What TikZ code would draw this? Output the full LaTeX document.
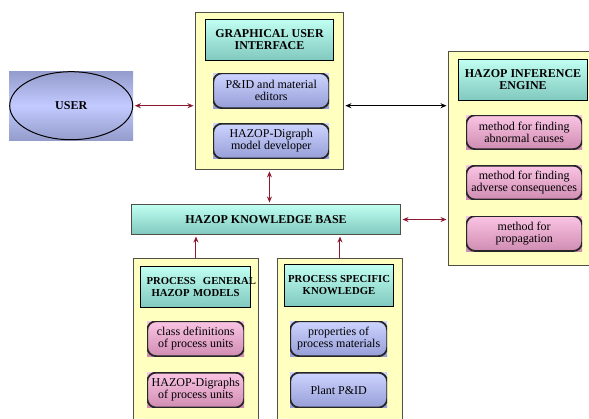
\documentclass[tikz,border=0pt]{standalone}
\usepackage{fontspec}
\setmainfont{Liberation Serif}
\usetikzlibrary{arrows.meta,positioning}
\definecolor{hazPanel}{RGB}{255,255,192}
\definecolor{hazFrame}{RGB}{80,80,70}
\definecolor{hazTealTop}{RGB}{192,255,242}
\definecolor{hazTealBot}{RGB}{128,200,190}
\definecolor{hazBlueTop}{RGB}{205,212,255}
\definecolor{hazBlueBot}{RGB}{150,158,215}
\definecolor{hazUserEdge}{RGB}{148,156,204}
\definecolor{hazUserMid}{RGB}{194,202,255}
\definecolor{hazPinkTop}{RGB}{250,196,228}
\definecolor{hazPinkBot}{RGB}{208,140,178}
\definecolor{hazLink}{RGB}{140,25,45}

\begin{document}
\begin{tikzpicture}[x=1pt, y=-1pt, >={Stealth[length=6pt,width=5pt]},
  panel/.style={draw=hazFrame, fill=hazPanel, line width=0.9pt, anchor=north west, inner sep=0pt},
  header/.style={draw=black, line width=1pt, top color=hazTealTop, bottom color=hazTealBot,
    font=\bfseries\fontsize{12}{12}\selectfont, align=center, anchor=north west, inner sep=0pt},
  subheader/.style={header, font=\bfseries\fontsize{10.7}{12}\selectfont},
  item/.style={anchor=north west, align=center, inner sep=0pt, font=\fontsize{12}{12}\selectfont,
    path picture={\draw[black!85, line width=1.8pt, rounded corners=9pt]
      (path picture bounding box.south west) rectangle (path picture bounding box.north east);}},
  blueitem/.style={item, top color=hazBlueTop, bottom color=hazBlueBot},
  pinkitem/.style={item, top color=hazPinkTop, bottom color=hazPinkBot},
  link/.style={<->, hazLink, line width=1pt, shorten <=1.5pt, shorten >=1.5pt},
  uplink/.style={->, hazLink, line width=1pt, shorten >=1.5pt}]
  \useasboundingbox (0,0) rectangle (589,418);

  % user
  \node[anchor=north west, minimum width=124pt, minimum height=69pt, inner sep=0pt,
    top color=hazUserEdge, bottom color=hazUserEdge, middle color=hazUserMid,
    font=\bfseries\fontsize{12}{12}\selectfont,
    path picture={\draw[line width=1pt] (path picture bounding box.center) ellipse [x radius=61.5pt, y radius=34pt];}]
    (user) at (9,71) {USER};

  % graphical user interface
  \node[panel, minimum width=148pt, minimum height=157pt] (gui) at (195,12) {};
  \node[header, minimum width=128pt, minimum height=41pt] (guihead) at (205,19) {GRAPHICAL USER\\INTERFACE};
  \node[blueitem, minimum width=116pt, minimum height=35pt] (pid) at (213,73) {P\&ID and material\\editors};
  \node[blueitem, minimum width=116pt, minimum height=35pt, below=15pt of pid] (devel) {HAZOP-Digraph\\model developer};

  % inference engine
  \node[panel, minimum width=141pt, minimum height=214pt] (engine) at (448,51) {};
  \node[header, minimum width=129pt, minimum height=41pt] (enghead) at (458,59) {HAZOP INFERENCE\\ENGINE};
  \node[pinkitem, minimum width=116pt, minimum height=34pt] (causes) at (466,115) {method for finding\\abnormal causes};
  \node[pinkitem, minimum width=116pt, minimum height=34pt, below=16pt of causes] (conseq) {method for finding\\adverse consequences};
  \node[pinkitem, minimum width=116pt, minimum height=35pt, below=16pt of conseq] (propag) {method for\\propagation};

  % knowledge base
  \node[header, draw=hazFrame, minimum width=269pt, minimum height=30pt] (kb) at (131,204) {HAZOP KNOWLEDGE BASE};

  % process general models
  \node[panel, minimum width=125pt, minimum height=165pt] (general) at (133,258) {};
  \node[subheader, text width=98pt, inner xsep=6pt, minimum height=41pt] (genhead) at (140,266) {\mbox{PROCESS\ \ GENERAL}\\HAZOP MODELS};
  \node[pinkitem, minimum width=97pt, minimum height=35pt] (classdef) at (147,321) {class definitions\\of process units};
  \node[pinkitem, minimum width=97pt, minimum height=35pt, below=16pt of classdef] (digraphs) {HAZOP-Digraphs\\of process units};

  % process specific knowledge
  \node[panel, minimum width=125pt, minimum height=165pt] (specific) at (277,258) {};
  \node[subheader, minimum width=109pt, minimum height=42pt] (spechead) at (284,264) {PROCESS SPECIFIC\\KNOWLEDGE};
  \node[blueitem, minimum width=97pt, minimum height=35pt] (props) at (290,321) {properties of\\process materials};
  \node[blueitem, minimum width=97pt, minimum height=35pt, below=16pt of props] (plant) {Plant P\&ID};

  % connectors
  \draw[link] (user.east) -- (user -| gui.west);
  \draw[link, black, line width=0.9pt] (user -| gui.east) -- (user -| engine.west);
  \draw[link] (gui.south) -- (gui.south |- kb.north);
  \draw[link] (kb.east) -- (kb.east -| engine.west);
  \draw[uplink] (general.north) -- (general.north |- kb.south);
  \draw[uplink] (specific.north) -- (specific.north |- kb.south);
\end{tikzpicture}
\end{document}
